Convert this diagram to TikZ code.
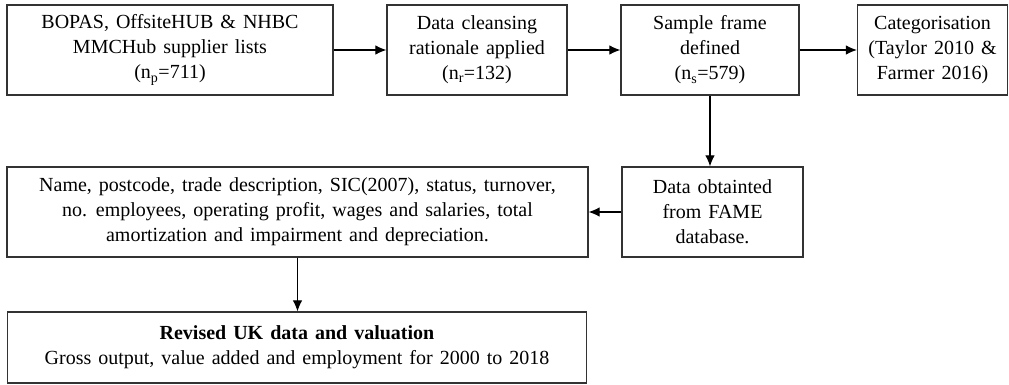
\documentclass[tikz,border=0pt]{standalone}
\usepackage{fontspec}
\setmainfont[WordSpace=1.4]{Liberation Serif}
\usetikzlibrary{arrows.meta}

\begin{document}
\begin{tikzpicture}[x=1pt,y=-1pt]
    \tikzstyle{stage}=[draw=black!80,line width=1.2pt,text=black,align=center,inner sep=2pt,font=\fontsize{20}{25}\selectfont]
    \tikzstyle{edge} = [draw,line width=1.1pt,-{Latex[length=11pt,width=9.5pt]}]

    \useasboundingbox (0,0) rectangle (1009,385);

    \node[stage, minimum width=326pt, minimum height=90pt] (lists) at (170, 50) {BOPAS, OffsiteHUB \& NHBC\\ MMCHub supplier lists\\ (n\textsubscript{p}=711)};
    \node[stage, minimum width=180pt, minimum height=90pt] (clean) at (477, 50) {Data cleansing\\ rationale applied\\ (n\textsubscript{r}=132)};
    \node[stage, minimum width=178pt, minimum height=90pt] (frame) at (710, 50) {Sample frame\\ defined\\ (n\textsubscript{s}=579)};
    \node[stage, minimum width=150pt, minimum height=90pt] (categ) at (932.5, 50) {Categorisation\\ (Taylor 2010 \&\\ Farmer 2016)};

    \node[stage, minimum width=181pt, minimum height=90pt] (fame) at (712.5, 212) {Data obtainted\\ from FAME\\ database.};
    \node[stage, minimum width=581pt, minimum height=90pt] (fields) at (297.5, 212) {Name, postcode, trade description, SIC(2007), status, turnover,\\ no. employees, operating profit, wages and salaries, total\\ amortization and impairment and depreciation.};
    \node[stage, minimum width=579pt, minimum height=71pt] (revised) at (297, 347.5) {\textbf{Revised UK data and valuation}\\ Gross output, value added and employment for 2000 to 2018};

    \path[edge] (lists) -- (clean);
    \path[edge] (clean) -- (frame);
    \path[edge] (frame) -- (categ);
    \path[edge] (frame.south) -- (frame.south |- fame.north);
    \path[edge] (fame) -- (fields);
    \path[edge] (fields.south) -- (fields.south |- revised.north);

\end{tikzpicture}
\end{document}
